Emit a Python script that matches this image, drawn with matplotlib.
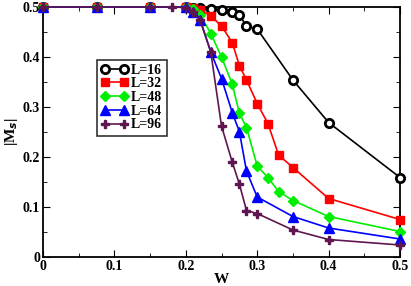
import matplotlib
matplotlib.use("Agg")
import matplotlib.pyplot as plt
from matplotlib.ticker import MultipleLocator

# data
W16 = [0, 0.075, 0.15, 0.2, 0.21, 0.22, 0.235, 0.25, 0.265, 0.275, 0.285, 0.3, 0.35, 0.4, 0.5]
M16 = [0.5, 0.5, 0.5, 0.5, 0.499, 0.499, 0.497, 0.494, 0.49, 0.484, 0.462, 0.456, 0.354, 0.269, 0.159]

W32 = [0, 0.075, 0.15, 0.2, 0.21, 0.22, 0.235, 0.25, 0.265, 0.275, 0.285, 0.3, 0.315, 0.33, 0.35, 0.4, 0.5]
M32 = [0.5, 0.5, 0.5, 0.5, 0.499, 0.495, 0.482, 0.462, 0.429, 0.383, 0.354, 0.307, 0.267, 0.204, 0.179, 0.117, 0.075]

W48 = [0, 0.075, 0.15, 0.2, 0.21, 0.22, 0.235, 0.25, 0.265, 0.275, 0.285, 0.3, 0.315, 0.33, 0.35, 0.4, 0.5]
M48 = [0.5, 0.5, 0.5, 0.5, 0.496, 0.485, 0.447, 0.40, 0.346, 0.288, 0.259, 0.182, 0.159, 0.131, 0.113, 0.081, 0.051]

W64 = [0, 0.075, 0.15, 0.2, 0.21, 0.22, 0.235, 0.25, 0.265, 0.275, 0.285, 0.3, 0.35, 0.4, 0.5]
M64 = [0.5, 0.5, 0.5, 0.5, 0.49, 0.475, 0.41, 0.357, 0.289, 0.251, 0.172, 0.12, 0.081, 0.058, 0.036]

W96 = [0, 0.075, 0.15, 0.18, 0.2, 0.21, 0.22, 0.235, 0.25, 0.265, 0.275, 0.285, 0.3, 0.35, 0.4, 0.5]
M96 = [0.5, 0.5, 0.5, 0.5, 0.499, 0.49, 0.474, 0.41, 0.262, 0.19, 0.146, 0.093, 0.087, 0.054, 0.035, 0.024]

TICKS = [0, 0.1, 0.2, 0.3, 0.4, 0.5]
TICK_LABELS = ["0", "0.1", "0.2", "0.3", "0.4", "0.5"]

plt.rcParams["font.family"] = "Liberation Serif"
plt.rcParams["font.weight"] = "bold"

fig = plt.figure(figsize=(4.11, 2.86), dpi=100)
ax = fig.add_axes([43 / 411, 29 / 286, 357 / 411, 250 / 286])

kw = dict(lw=1.2, clip_on=False, zorder=3)
ax.plot(W16, M16, "-o", color="black", mfc="white", mec="black", mew=2, ms=6, label="L=16", **kw)
ax.plot(W32, M32, "-s", color="red", mfc="red", mec="red", ms=6, label="L=32", **kw)
ax.plot(W48, M48, "-D", color="#00ee00", mfc="#00ee00", mec="#00ee00", ms=5, label="L=48", **kw)
ax.plot(W64, M64, "-^", color="blue", mfc="blue", mec="blue", ms=7, label="L=64", **kw)
ax.plot(W96, M96, "-P", color="#5f1650", mfc="#5f1650", mec="#5f1650", ms=6, label="L=96", **kw)

ax.set_xticks(TICKS)
ax.set_xticklabels(TICK_LABELS)
ax.set_yticks(TICKS)
ax.set_yticklabels(TICK_LABELS)
ax.xaxis.set_minor_locator(MultipleLocator(0.05))
ax.yaxis.set_minor_locator(MultipleLocator(0.05))
ax.set_xlim(0, 0.5)
ax.set_ylim(0, 0.5)
ax.tick_params(which="both", direction="in", top=True, right=True, labelsize=10, pad=2)
ax.tick_params(which="major", length=5)
ax.tick_params(which="minor", length=3)
for s in ax.spines.values():
    s.set_linewidth(1.3)

ax.set_xlabel("W", fontsize=11, fontweight="bold", labelpad=0)
ax.set_ylabel(r"|M$_s$|", fontsize=11, fontweight="bold", labelpad=2)

leg = ax.legend(loc="upper left", bbox_to_anchor=(0.15, 0.79), fontsize=10, frameon=True,
                fancybox=False, edgecolor="black", handlelength=2.0, handletextpad=0.2,
                labelspacing=0.05, borderpad=0.3, borderaxespad=0, numpoints=2)
leg.get_frame().set_linewidth(1.2)

fig.savefig("out.png", dpi=100)
